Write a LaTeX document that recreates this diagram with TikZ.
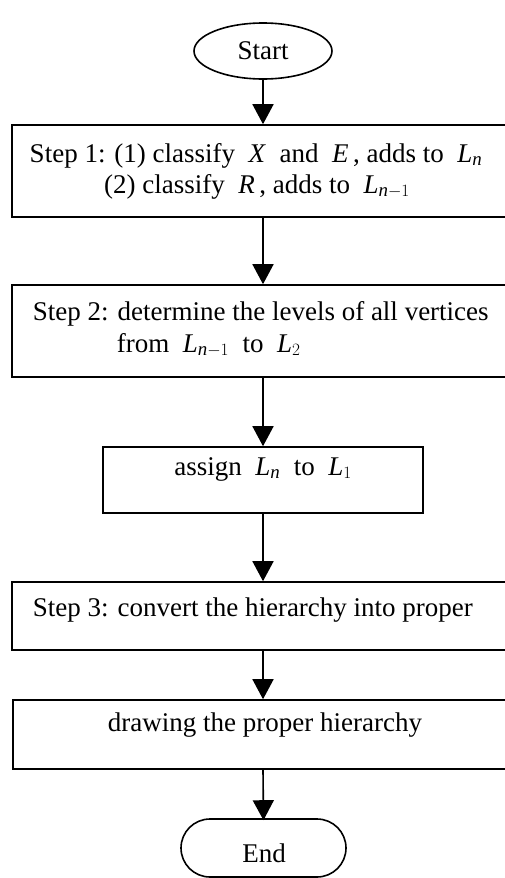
\documentclass[tikz,border=0pt]{standalone}
\usepackage{amsmath}
\usepackage{fontspec}
\setmainfont{Liberation Serif}
\usetikzlibrary{arrows.meta,shapes.geometric}
\newcommand{\mv}[1]{\textit{#1}}
\begin{document}
\begin{tikzpicture}[x=1pt,y=-1pt,
  line width=1.6pt,
  boxst/.style={draw, rectangle, inner sep=0pt, line width=1.6pt},
  txt/.style={inner sep=0pt, anchor=base, font=\fontsize{27}{31}\selectfont},
  txtl/.style={inner sep=0pt, anchor=base west, font=\fontsize{27}{31}\selectfont},
  flow/.style={-{Triangle[length=20pt,width=21pt]}, line width=1.6pt}]
\clip (0,0) rectangle (505,878);
\fill[white] (0,0) rectangle (505,878);
% start
\node[draw, ellipse, minimum width=138pt, minimum height=56pt, inner sep=0pt] (start) at (263,51) {};
\node[txt] (tstart) at (263,59) {Start};
% box 1
\node[boxst, minimum width=500pt, minimum height=92pt] (b1) at (262,171) {};
\node[txt] (t1a) at (256,162) {Step 1: (1) classify \ \mv{X} \ and \ \mv{E}\,, adds to \ $\mv{L}_{\mv{n}}$};
\node[txt] (t1b) at (257,193) {(2) classify \ \mv{R}\,, adds to \ $\mv{L}_{\mv{n}-1}$};
% box 2
\node[boxst, minimum width=500pt, minimum height=92pt] (b2) at (262,331) {};
\node[txtl] (t2a) at (32,320) {Step 2: determine the levels of all vertices};
\node[txtl] (t2b) at (116,352) {from \ $\mv{L}_{\mv{n}-1}$ \ to \ $\mv{L}_2$};
% box 3
\node[boxst, minimum width=320pt, minimum height=66pt] (b3) at (263,480) {};
\node[txt] (t3) at (263,475) {assign \ $\mv{L}_{\mv{n}}$ \ to \ $\mv{L}_1$};
% box 4
\node[boxst, minimum width=500pt, minimum height=68pt] (b4) at (262,616) {};
\node[txtl] (t4) at (32,616) {Step 3: convert the hierarchy into proper};
% box 5
\node[boxst, minimum width=500pt, minimum height=69pt] (b5) at (263,734.5) {};
\node[txt] (t5) at (265,731) {drawing the proper hierarchy};
% end
\node[draw, rectangle, rounded corners=29pt, minimum width=165pt, minimum height=58pt, inner sep=0pt] (end) at (263.5,848) {};
\node[txt] (tend) at (264,862) {End};
% arrows
\draw[flow] (start.south) -- (start.south |- b1.north);
\draw[flow] (start.south |- b1.south) -- (start.south |- b2.north);
\draw[flow] (start.south |- b2.south) -- (b3.north);
\draw[flow] (b3.south) -- (b3.south |- b4.north);
\draw[flow] (b3.south |- b4.south) -- (b3.south |- b5.north);
\draw[flow] (b3.south |- b5.south) -- ([yshift=-2pt]end.north);
\end{tikzpicture}
\end{document}
